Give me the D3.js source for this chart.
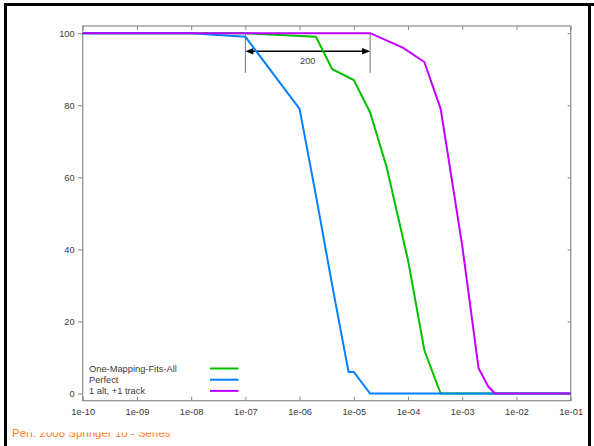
<!DOCTYPE html>
<html>
<head>
<meta charset="utf-8">
<script src="https://cdn.jsdelivr.net/npm/d3@7"></script>
<style>
  html, body { margin: 0; padding: 0; background: #fff; }
  svg { display: block; }
  text { font-family: "Liberation Sans", Arial, sans-serif; }
</style>
</head>
<body>
<svg id="chart" width="594" height="446"></svg>
<script>
// Error-rate sweep: x values (log scale) and success percentage per series
const fitsAllX = [1e-10, 1e-7, 2e-6, 4e-6, 1e-5, 2e-5, 4e-5, 1e-4, 2e-4, 4e-4, 1e-1];
const fitsAllY = [100, 100, 99, 90, 87, 78, 63, 37, 12, 0, 0];

const perfectX = [1e-10, 1e-8, 1e-7, 1e-6, 2e-6, 4e-6, 8e-6, 1e-5, 2e-5, 1e-1];
const perfectY = [100, 100, 99, 79, 55, 30, 6, 6, 0, 0];

const trackX = [1e-10, 2e-5, 8e-5, 2e-4, 4e-4, 1e-3, 2e-3, 3e-3, 4e-3, 1e-1];
const trackY = [100, 100, 96, 92, 79, 41, 7, 2, 0, 0];

const seriesNames = ["One-Mapping-Fits-All", "Perfect", "1 alt, +1 track"];
const seriesColors = ["#00c000", "#0080ff", "#c000ff"];

const xTickValues = [1e-10, 1e-9, 1e-8, 1e-7, 1e-6, 1e-5, 1e-4, 1e-3, 1e-2, 1e-1];
const xTickLabels = ["1e-10", "1e-09", "1e-08", "1e-07", "1e-06", "1e-05", "1e-04", "1e-03", "1e-02", "1e-01"];
const yTickValues = [0, 20, 40, 60, 80, 100];

// Span annotation: double arrow between two x positions
const spanFrom = 1e-7, spanTo = 2e-5, spanLabel = "200";
const spanArrowY = 95, spanTop = 100, spanBottom = 89, spanLabelY = 92.3;

const footerText = "Perf. 2008 Springer 10 - Series";

const svg = d3.select("#chart");
const W = 594, H = 446;
const plotLeft = 82.7, plotRight = 570.7, plotTop = 26, plotBottom = 400.7;

const x = d3.scaleLog().domain([1e-10, 1e-1]).range([plotLeft, plotRight]);
const y = d3.scaleLinear().domain([-2, 102]).range([plotBottom, plotTop]);

// outer page border
const border = svg.append("g").attr("stroke", "#000").attr("stroke-width", 3).attr("fill", "none");
border.append("path").attr("d", `M5.5,${H} V4.5 H${W}`);
border.append("path").attr("d", `M589.5,4.5 V${H}`);

// footer caption
svg.append("text")
  .attr("x", 12).attr("y", 437)
  .attr("fill", "#ff7a1a")
  .attr("font-size", 11.5)
  .text(footerText);
svg.append("rect")
  .attr("x", 26).attr("y", 424).attr("width", 180).attr("height", 8.5)
  .attr("fill", "#fff");

const axisColor = "#8a8a8a";
const labelColor = "#3a3a3a";

// axes
const xBottom = d3.axisBottom(x).tickValues(xTickValues)
  .tickFormat((d, i) => xTickLabels[i]).tickSizeInner(-4).tickSizeOuter(0).tickPadding(8);
const xTop = d3.axisTop(x).tickValues(xTickValues).tickFormat("").tickSizeInner(-4).tickSizeOuter(0);
const yLeft = d3.axisLeft(y).tickValues(yTickValues).tickSizeInner(5).tickSizeOuter(0).tickPadding(3);
const yRight = d3.axisRight(y).tickValues(yTickValues).tickFormat("").tickSizeInner(-3).tickSizeOuter(0);

function styleAxis(g) {
  g.select(".domain").remove();
  g.selectAll(".tick line").attr("stroke", axisColor);
  g.selectAll(".tick text").attr("fill", labelColor).attr("font-size", 9.3)
    .attr("font-family", "'Liberation Sans', Arial, sans-serif");
}

svg.append("g").attr("transform", `translate(0,${plotBottom})`).call(xBottom).call(styleAxis);
svg.append("g").attr("transform", `translate(0,${plotTop})`).call(xTop).call(styleAxis);
svg.append("g").attr("transform", `translate(${plotLeft},0)`).call(yLeft).call(styleAxis);
svg.append("g").attr("transform", `translate(${plotRight},0)`).call(yRight).call(styleAxis);

// plot frame
svg.append("rect")
  .attr("x", plotLeft).attr("y", plotTop)
  .attr("width", plotRight - plotLeft).attr("height", plotBottom - plotTop)
  .attr("fill", "none").attr("stroke", axisColor).attr("stroke-width", 1.2);

// span annotation
const ann = svg.append("g");
[spanFrom, spanTo].forEach(v => {
  ann.append("line")
    .attr("x1", x(v)).attr("x2", x(v))
    .attr("y1", y(spanTop)).attr("y2", y(spanBottom))
    .attr("stroke", "#777").attr("stroke-width", 1);
});
const ay = y(spanArrowY);
ann.append("line")
  .attr("x1", x(spanFrom) + 4).attr("x2", x(spanTo) - 4)
  .attr("y1", ay).attr("y2", ay)
  .attr("stroke", "#000").attr("stroke-width", 1.6);
ann.append("path")
  .attr("d", `M${x(spanFrom)},${ay} l8,-3.2 v6.4 Z`).attr("fill", "#000");
ann.append("path")
  .attr("d", `M${x(spanTo)},${ay} l-8,-3.2 v6.4 Z`).attr("fill", "#000");
ann.append("text")
  .attr("x", x(Math.sqrt(spanFrom * spanTo)))
  .attr("y", y(spanLabelY))
  .attr("dy", "0.35em")
  .attr("text-anchor", "middle")
  .attr("font-size", 9.3)
  .attr("fill", "#444")
  .text(spanLabel);

// series lines
const series = [
  { xs: fitsAllX, ys: fitsAllY },
  { xs: perfectX, ys: perfectY },
  { xs: trackX, ys: trackY }
];
const line = d3.line().x(d => x(d[0])).y(d => y(d[1]));
series.forEach((s, i) => {
  svg.append("path")
    .datum(s.xs.map((v, j) => [v, s.ys[j]]))
    .attr("d", line)
    .attr("fill", "none")
    .attr("stroke", seriesColors[i])
    .attr("stroke-width", 2)
    .attr("stroke-linejoin", "miter");
});

// legend
const leg = svg.append("g");
seriesNames.forEach((name, i) => {
  const ly = 368.5 + i * 11.2;
  leg.append("text")
    .attr("x", 89).attr("y", ly).attr("dy", "0.35em")
    .attr("font-size", 9.3).attr("fill", labelColor)
    .text(name);
  leg.append("line")
    .attr("x1", 210).attr("x2", 238.5)
    .attr("y1", ly).attr("y2", ly)
    .attr("stroke", seriesColors[i]).attr("stroke-width", 2);
});
</script>
</body>
</html>
